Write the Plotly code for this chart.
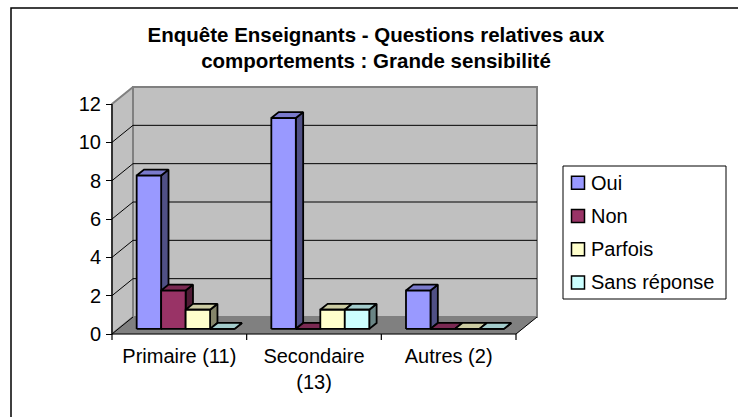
import plotly.graph_objects as go

# ---------------- data ----------------
categories = ["Primaire (11)", "Secondaire<br>(13)", "Autres (2)"]
series_names = ["Oui", "Non", "Parfois", "Sans réponse"]
oui = [8, 11, 2]
non = [2, 0, 0]
parfois = [1, 1, 0]
sans_reponse = [0, 1, 0]
y_ticks = [0, 2, 4, 6, 8, 10, 12]
title_text = "Enquête Enseignants - Questions relatives aux<br>comportements : Grande sensibilité"

series_values = [oui, non, parfois, sans_reponse]
front_colors = ["#9999FF", "#993366", "#FFFFCC", "#CCFFFF"]

# ---------------- geometry (pixel layout) ----------------
W, H = 738, 417
FONT = "Liberation Sans, Arial, sans-serif"
FS = 20
x0_px, x_unit = 112.0, 404.0 / 3.0      # px of x=-0.5, px per category
y0_px, y_unit = 334.0, 230.0 / 12.0     # px of y=0, px per unit value
dx_px, dy_px = 21.0, 17.0               # depth offset of walls
dxu, dyu = dx_px / x_unit, dy_px / y_unit
ymax = max(y_ticks)
ncat = len(categories)
nser = len(series_names)
gap = 1.5                                # Excel gap width 150%
bw = 1.0 / (nser + gap)                  # bar width in category units
f0, f1 = 0.30, 0.65                      # bar depth fractions

xr_lo, xr_hi = -0.6, ncat - 0.5 + dxu + 0.09
yr_lo, yr_hi = -0.5, ymax + dyu + 0.4


def px_x(v):
    return x0_px + (v + 0.5) * x_unit


def px_y(v):
    return y0_px - v * y_unit


def shade(hexc, k):
    hexc = hexc.lstrip("#")
    r, g, b = (int(hexc[i:i + 2], 16) for i in (0, 2, 4))
    return "rgb(%d,%d,%d)" % (round(r * k), round(g * k), round(b * k))


fig = go.Figure()


def poly(xs, ys, fill, line, lw):
    fig.add_trace(go.Scatter(x=xs + [xs[0]], y=ys + [ys[0]], mode="lines", fill="toself",
                             fillcolor=fill, line=dict(color=line, width=lw),
                             hoverinfo="skip", showlegend=False))


def seg(xs, ys, color, lw):
    fig.add_trace(go.Scatter(x=xs, y=ys, mode="lines", line=dict(color=color, width=lw),
                             hoverinfo="skip", showlegend=False))


xl_wall, xr_wall = -0.5, ncat - 0.5
# side wall
poly([xl_wall, xl_wall + dxu, xl_wall + dxu, xl_wall],
     [0, dyu, ymax + dyu, ymax], "#C0C0C0", "#808080", 2)
# back wall
poly([xl_wall + dxu, xr_wall + dxu, xr_wall + dxu, xl_wall + dxu],
     [dyu, dyu, ymax + dyu, ymax + dyu], "#C0C0C0", "#808080", 2)
# floor
poly([xl_wall, xr_wall, xr_wall + dxu, xl_wall + dxu],
     [0, 0, dyu, dyu], "#808080", "#808080", 0.5)
# gridlines on walls
for t in y_ticks[1:-1]:
    seg([xl_wall, xl_wall + dxu, xr_wall + dxu], [t, t + dyu, t + dyu], "black", 1)
seg([xl_wall, xl_wall + dxu], [0, dyu], "black", 1)
seg([xr_wall, xr_wall + dxu], [0, dyu], "black", 1)

# bars (3D faces computed from values)
a0, b0 = f0 * dxu, f0 * dyu
a1, b1 = f1 * dxu, f1 * dyu
for i in range(ncat):
    for j in range(nser):
        v = series_values[j][i]
        c = front_colors[j]
        xl = i - (nser * bw) / 2 + j * bw
        xr = xl + bw
        # side
        poly([xr + a0, xr + a1, xr + a1, xr + a0], [b0, b1, b1 + v, b0 + v], shade(c, 0.52), "black", 1.8)
        # top
        poly([xl + a0, xr + a0, xr + a1, xl + a1], [b0 + v, b0 + v, b1 + v, b1 + v], shade(c, 0.8), "black", 1.8)
        # front
        poly([xl + a0, xr + a0, xr + a0, xl + a0], [b0, b0, b0 + v, b0 + v], c, "black", 1.8)

# axis lines
seg([xl_wall, xr_wall], [0, 0], "black", 1.2)
seg([xl_wall, xl_wall], [0, ymax], "black", 1.2)

# frame + category boundary ticks
shapes = [dict(type="rect", xref="paper", yref="paper", x0=11 / W, x1=1.2, y0=-0.2, y1=1 - 8 / H,
               line=dict(color="black", width=1.5), fillcolor="rgba(0,0,0,0)", layer="below")]
for k in range(ncat + 1):
    shapes.append(dict(type="line", xref="x", yref="paper", x0=k - 0.5, x1=k - 0.5,
                       y0=1 - y0_px / H, y1=1 - (y0_px + 6) / H, line=dict(color="black", width=1.2)))

# custom legend (box, swatches, labels)
leg_l, leg_r, leg_t, leg_b = 563, 726, 166, 299
annotations = []
shapes.append(dict(type="rect", xref="paper", yref="paper", x0=leg_l / W, x1=leg_r / W,
                   y0=1 - leg_b / H, y1=1 - leg_t / H, line=dict(color="black", width=1),
                   fillcolor="white"))
item_h = (leg_b - leg_t) / nser
for j, (name, c) in enumerate(zip(series_names, front_colors)):
    cy = leg_t + item_h * (j + 0.5)
    shapes.append(dict(type="rect", xref="paper", yref="paper", x0=571.5 / W, x1=584.5 / W,
                       y0=1 - (cy + 6.5) / H, y1=1 - (cy - 6.5) / H,
                       line=dict(color="black", width=1.5), fillcolor=c))
    annotations.append(dict(xref="paper", yref="paper", x=589 / W, y=1 - cy / H, text=name,
                            showarrow=False, xanchor="left", yanchor="middle",
                            font=dict(size=FS, family=FONT, color="black")))

fig.update_layout(
    width=W, height=H, margin=dict(l=0, r=0, t=0, b=0),
    paper_bgcolor="white", plot_bgcolor="rgba(0,0,0,0)",
    font=dict(family=FONT, color="black", size=FS),
    title=dict(text="<b>" + title_text + "</b>", x=376 / W, xanchor="center",
               y=1 - 41.5 / H, yanchor="middle", font=dict(size=20.5, family=FONT)),
    xaxis=dict(range=[xr_lo, xr_hi], domain=[px_x(xr_lo) / W, px_x(xr_hi) / W],
               anchor="free", position=1 - y0_px / H,
               tickvals=list(range(ncat)), ticktext=categories, ticks="",
               ticklabelstandoff=8,
               showline=False, showgrid=False, zeroline=False,
               tickfont=dict(size=FS), fixedrange=True),
    yaxis=dict(range=[yr_lo, yr_hi], domain=[1 - px_y(yr_lo) / H, 1 - px_y(yr_hi) / H],
               anchor="free", position=x0_px / W,
               tickvals=y_ticks, ticks="outside", ticklen=6, tickcolor="black", tickwidth=1.2,
               ticklabelstandoff=1,
               showline=False, showgrid=False, zeroline=False,
               tickfont=dict(size=FS), fixedrange=True),
    shapes=shapes,
    annotations=annotations,
    showlegend=False,
)

fig.write_html("out.html", config={"displayModeBar": False},
               post_script="document.body.style.margin='0';")
